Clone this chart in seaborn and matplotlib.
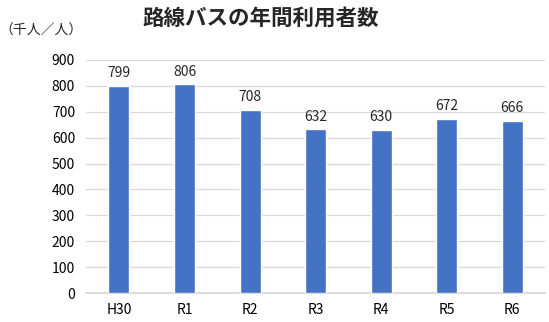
import matplotlib
matplotlib.use("Agg")
import matplotlib.pyplot as plt
import seaborn as sns
import pandas as pd

categories = ["H30", "R1", "R2", "R3", "R4", "R5", "R6"]
values = [799, 806, 708, 632, 630, 672, 666]
yticks = [0, 100, 200, 300, 400, 500, 600, 700, 800, 900]

sns.set_theme(style="white")
plt.rcParams['font.family'] = ['Noto Sans CJK JP', 'DejaVu Sans']

df = pd.DataFrame({"year": categories, "users": values})

fig = plt.figure(figsize=(5.49, 3.22), dpi=100)
ax = fig.add_axes([0.157, 0.090, 0.836, 0.724])
sns.barplot(data=df, x="year", y="users", color="#4472C4", width=0.32,
            saturation=1, ax=ax, zorder=3)
ax.set_ylim(0, 900)
ax.set_yticks(yticks)
ax.set_xlim(-0.5, len(categories) - 0.5)
ax.yaxis.grid(True, color="#d9d9d9", linewidth=0.9, zorder=0)
ax.set_axisbelow(True)
for s in ["top", "right", "left"]:
    ax.spines[s].set_visible(False)
ax.spines["bottom"].set_color("#d9d9d9")
ax.set_xlabel("")
ax.set_ylabel("")
ax.tick_params(axis="both", length=0, labelsize=10, colors="#000000")
ax.tick_params(axis="x", pad=7)
ax.tick_params(axis="y", pad=8)
for c in ax.containers:
    ax.bar_label(c, labels=[str(v) for v in values], padding=4, fontsize=10)

fig.text(0.474, 0.944, "路線バスの年間利用者数", ha="center", va="center",
         fontsize=15.5, fontweight="bold")
fig.text(-0.002, 0.905, "（千人／人）", ha="left", va="center", fontsize=10)

fig.savefig("out.png", dpi=100)
